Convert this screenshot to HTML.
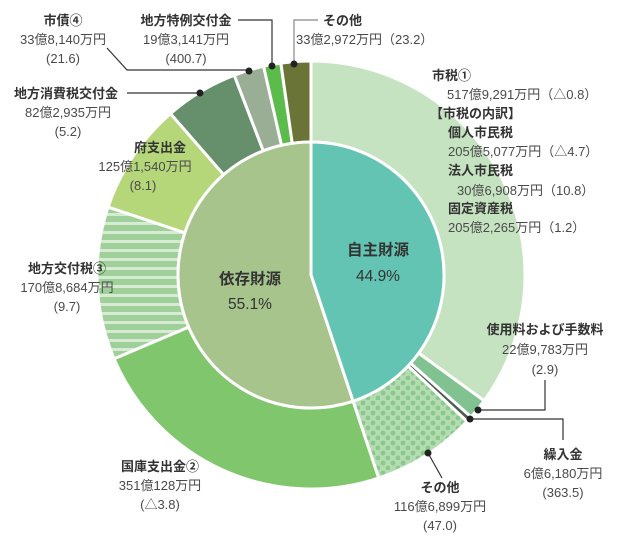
<!DOCTYPE html>
<html><head><meta charset="utf-8"><style>
html,body{margin:0;padding:0;background:#fff;}
svg{display:block;font-family:"Liberation Sans","Noto Sans CJK JP",sans-serif;}
.b{font-weight:bold;fill:#333;font-size:13px;}
.v{fill:#4a4a4a;font-size:13px;}
.c{text-anchor:middle;}
</style></head><body>
<svg id="s" width="621" height="550" viewBox="0 0 621 550" xmlns="http://www.w3.org/2000/svg">
<defs>
<pattern id="dots" width="10" height="10" patternUnits="userSpaceOnUse">
<rect width="10" height="10" fill="#b3dcb0"/><circle cx="3" cy="3" r="2.4" fill="#8cc78e"/><circle cx="8" cy="8" r="2.4" fill="#8cc78e"/>
</pattern>
<pattern id="stripes" width="10" height="9" patternUnits="userSpaceOnUse">
<rect width="10" height="9" fill="#9fd09a"/><rect y="6" width="10" height="3" fill="#d7ebd2"/>
</pattern>
</defs>
<g id="segs"></g>
<g stroke="#333" stroke-width="1.2" fill="none">
<polyline points="107,48 127,70 249,70"/>
<polyline points="238,20 272,20 272,66" />
<polyline points="318,20 294,20 294,64" stroke="#888"/>
<polyline points="127,93 200,93"/>
<polyline points="545,380 545,410 478,410"/>
<polyline points="470,419 563,419 563,440"/>
<polyline points="428,453 442,478"/>
</g>
<g fill="#222">
<circle cx="249" cy="71" r="3.5"/><circle cx="272" cy="66" r="3.5"/><circle cx="294" cy="64" r="3.5"/>
<circle cx="200" cy="93" r="3.5"/><circle cx="478" cy="410" r="3.5"/><circle cx="470" cy="419" r="3.5"/><circle cx="428" cy="453" r="3.5"/>
</g>
<text class="b c" x="63" y="25">市債④</text>
<text class="v c" x="63" y="44">33億8,140万円</text>
<text class="v c" x="63" y="63">(21.6)</text>
<text class="b c" x="186" y="25">地方特例交付金</text>
<text class="v c" x="186" y="44">19億3,141万円</text>
<text class="v c" x="186" y="63">(400.7)</text>
<text class="b" x="323" y="25">その他</text>
<text class="v" x="296" y="44">33億2,972万円（23.2）</text>
<text class="b" x="14" y="98">地方消費税交付金</text>
<text class="v c" x="68" y="117">82億2,935万円</text>
<text class="v c" x="68" y="136">(5.2)</text>
<text class="b c" x="160" y="152">府支出金</text>
<text class="v c" x="145" y="171">125億1,540万円</text>
<text class="v c" x="143" y="190">(8.1)</text>
<text class="b c" x="67" y="273">地方交付税③</text>
<text class="v c" x="67" y="292">170億8,684万円</text>
<text class="v c" x="67" y="311">(9.7)</text>
<text class="b c" x="160" y="471">国庫支出金②</text>
<text class="v c" x="160" y="490">351億128万円</text>
<text class="v c" x="160" y="509">(△3.8)</text>
<text class="b" x="432" y="80">市税①</text>
<text class="v" x="447" y="99">517億9,291万円（△0.8）</text>
<text class="b" x="430" y="118">【市税の内訳】</text>
<text class="b" x="448" y="137">個人市民税</text>
<text class="v" x="448" y="156">205億5,077万円（△4.7）</text>
<text class="b" x="448" y="175">法人市民税</text>
<text class="v" x="457" y="195">30億6,908万円（10.8）</text>
<text class="b" x="448" y="213">固定資産税</text>
<text class="v" x="448" y="232">205億2,265万円（1.2）</text>
<text class="b c" x="545" y="334">使用料および手数料</text>
<text class="v c" x="545" y="354">22億9,783万円</text>
<text class="v c" x="545" y="374">(2.9)</text>
<text class="b c" x="563" y="459">繰入金</text>
<text class="v c" x="563" y="478">6億6,180万円</text>
<text class="v c" x="563" y="497">(363.5)</text>
<text class="b c" x="440" y="492">その他</text>
<text class="v c" x="440" y="511">116億6,899万円</text>
<text class="v c" x="440" y="530">(47.0)</text>
<text class="c" x="378" y="255" font-size="15.5" font-weight="bold" fill="#333">自主財源</text>
<text class="c" x="378" y="281" font-size="15.5" fill="#333">44.9%</text>
<text class="c" x="250" y="284" font-size="15.5" font-weight="bold" fill="#333">依存財源</text>
<text class="c" x="250" y="309" font-size="15.5" fill="#333">55.1%</text>
</svg>
<script>
(function(){
var cx=311,cy=275,R=214,r0=133;
var outer=[[517.9291,"#c6e3c1"],[22.9783,"#80c290"],[6.618,"#4d5e4f"],[116.6899,"url(#dots)"],
[351.0128,"#80c66c"],[170.8684,"url(#stripes)"],[125.154,"#b5d77a"],[82.2935,"#66906c"],[33.814,"#9aad95"],[19.3141,"#5bbb4b"],[33.2972,"#6b7437"]];
var tot=0;outer.forEach(function(o){tot+=o[0];});
function pt(a,rr){var t=a*Math.PI/180;return [cx+rr*Math.sin(t),cy-rr*Math.cos(t)];}
function ann(a0,a1,ri,ro){var p1=pt(a0,ro),p2=pt(a1,ro),p3=pt(a1,ri),p4=pt(a0,ri);var l=(a1-a0)>180?1:0;
 var d="M"+p1+"A"+ro+","+ro+" 0 "+l+" 1 "+p2;
 if(ri>0){d+="L"+p3+"A"+ri+","+ri+" 0 "+l+" 0 "+p4+"Z";}else{d+="L"+cx+","+cy+"Z";}
 return d;}
var g=document.getElementById("segs"),h="",a=0;
outer.forEach(function(o){var s=o[0]/tot*360;h+='<path d="'+ann(a,a+s,r0,R)+'" fill="'+o[1]+'" stroke="#fff" stroke-width="3"/>';a+=s;});
var own=664.2153/tot*360;
h+='<path d="'+ann(0,own,0,r0)+'" fill="#64c4b3" stroke="#fff" stroke-width="3"/>';
h+='<path d="'+ann(own,360,0,r0)+'" fill="#a7c48c" stroke="#fff" stroke-width="3"/>';
g.innerHTML=h;
})();
</script>
</body></html>
